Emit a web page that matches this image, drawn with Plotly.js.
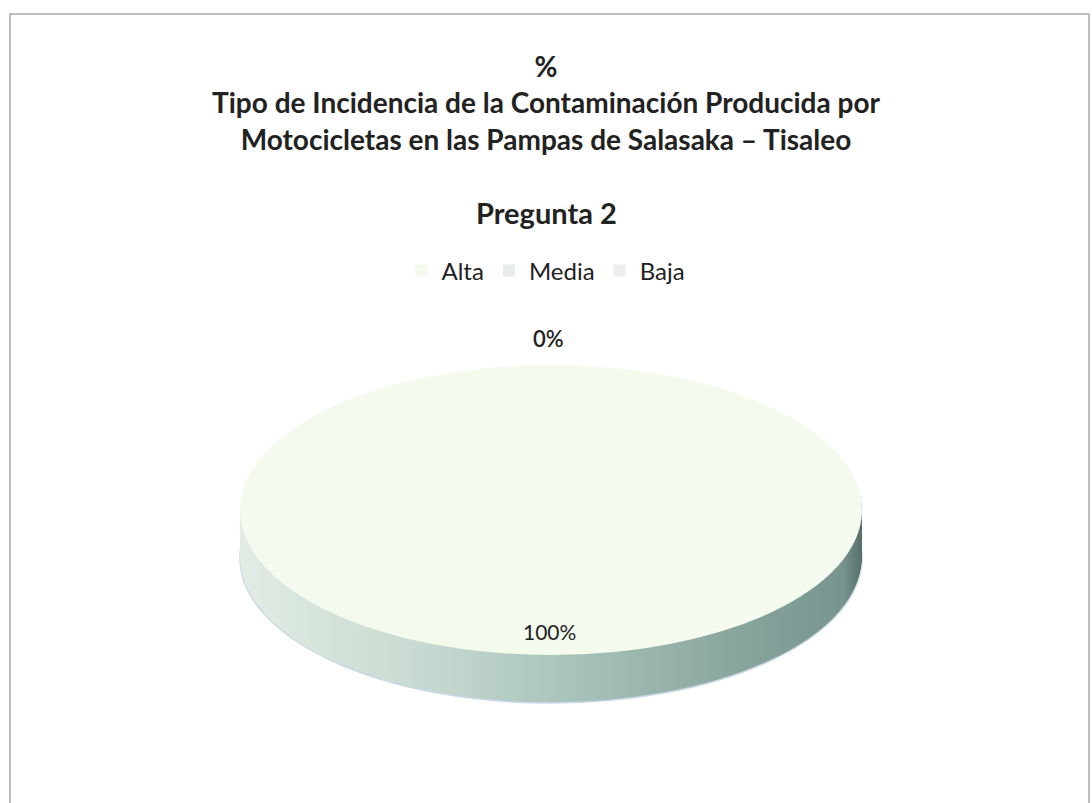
<!DOCTYPE html>
<html>
<head>
<meta charset="utf-8">
<script src="https://cdn.plot.ly/plotly-3.0.1.min.js"></script>
<style>
html,body{margin:0;padding:0;background:#fff;}
#chart{width:1092px;height:803px;}
</style>
</head>
<body>
<div id="chart"></div>
<script>
// ---- data ----
const categories = ['Alta', 'Media', 'Baja'];
const values = [100, 0, 0];
const topColors = ['#f4faee', '#e6eeeb', '#eaefed'];
const titleLines = ['%', 'Tipo de Incidencia de la Contaminación Producida por', 'Motocicletas en las Pampas de Salasaka – Tisaleo'];
const subtitle = 'Pregunta 2';

// ---- derived ----
const total = values.reduce((a, b) => a + b, 0);
const pctText = values.map(v => Math.round(v / total * 100) + '%');

const W = 1092, H = 803;
const FONT = 'Lato, "Open Sans", sans-serif';
const domain = {x: [240 / W, 862 / W], y: [0, 1]};
const SIDE_STEPS = 24, SIDE_DEPTH = 48, TOP_CY = 510, RY = 145;

const traces = [];
for (let i = SIDE_STEPS; i >= 1; i--) {
  traces.push({
    type: 'pie', labels: categories, values: values, sort: false,
    direction: 'clockwise', rotation: 0, domain: domain,
    textinfo: 'none', hoverinfo: 'none', showlegend: false,
    marker: {colors: ['#a9c3bb', '#a9c3bb', '#a9c3bb'],
             line: {width: i === SIDE_STEPS ? [1.5, 0, 0] : 0, color: '#cad8e6'}}
  });
}
traces.push({
  type: 'pie', labels: categories, values: values, sort: false,
  direction: 'clockwise', rotation: 0, domain: domain,
  textinfo: 'none', hoverinfo: 'none', showlegend: true,
  marker: {colors: topColors, line: {width: 0}}
});

const layout = {
  width: W, height: H,
  margin: {l: 0, r: 0, t: 0, b: 0},
  paper_bgcolor: '#ffffff',
  font: {family: FONT, color: '#222222'},
  title: {
    text: titleLines.join('<br>'),
    x: 0.5, xanchor: 'center', y: 1 - 77 / H, yanchor: 'top',
    font: {family: FONT, size: 28, weight: 700, color: '#222222'}
  },
  showlegend: true,
  legend: {
    orientation: 'h', x: 0.5, xanchor: 'center', y: 1 - 271 / H, yanchor: 'middle',
    font: {family: FONT, size: 24, color: '#222222'}, traceorder: 'normal'
  },
  annotations: [
    {text: subtitle, xref: 'paper', yref: 'paper', x: 0.5, y: 1 - 213 / H,
     xanchor: 'center', yanchor: 'middle', showarrow: false,
     font: {family: FONT, size: 29, weight: 700, color: '#222222'}},
    {text: pctText[1], xref: 'paper', yref: 'paper', x: 548 / W, y: 1 - 338 / H,
     xanchor: 'center', yanchor: 'middle', showarrow: false,
     font: {family: FONT, size: 22, weight: 600, color: '#222222'}},
    {text: pctText[0], xref: 'paper', yref: 'paper', x: 549 / W, y: 1 - 631 / H,
     xanchor: 'center', yanchor: 'middle', showarrow: false,
     font: {family: FONT, size: 21, color: '#222222'}}
  ],
  shapes: [
    {type: 'rect', xref: 'paper', yref: 'paper', x0: 10 / W, x1: 1089 / W,
     y0: -0.05, y1: 1 - 14 / H, line: {color: '#a8a8a8', width: 1.5}}
  ]
};

Plotly.newPlot('chart', traces, layout, {staticPlot: true, displayModeBar: false}).then(gd => {
  const ns = 'http://www.w3.org/2000/svg';
  const svg = gd.querySelector('svg.main-svg');
  let defs = svg.querySelector('defs');
  if (!defs) { defs = document.createElementNS(ns, 'defs'); svg.insertBefore(defs, svg.firstChild); }
  const grad = document.createElementNS(ns, 'linearGradient');
  grad.setAttribute('id', 'sideGrad');
  grad.setAttribute('x1', '0'); grad.setAttribute('x2', '1');
  grad.setAttribute('y1', '0'); grad.setAttribute('y2', '0');
  [[0, '#e2ece4'], [0.3, '#c6d9d0'], [0.55, '#a6c1b9'], [0.8, '#88a59e'], [0.97, '#78948e'], [1, '#55706a']].forEach(s => {
    const st = document.createElementNS(ns, 'stop');
    st.setAttribute('offset', s[0]); st.setAttribute('stop-color', s[1]);
    grad.appendChild(st);
  });
  defs.appendChild(grad);

  const groups = gd.querySelectorAll('.pielayer .trace');
  groups.forEach((g, idx) => {
    const cd0 = gd.calcdata[idx][0];
    const cx = cd0.cx, cy = cd0.cy, r = cd0.r;
    const k = RY / r;
    const off = idx < SIDE_STEPS ? (SIDE_STEPS - idx) * SIDE_DEPTH / SIDE_STEPS : 0;
    g.setAttribute('transform',
      'translate(' + cx + ',' + (TOP_CY + off) + ') scale(1,' + k + ') translate(' + (-cx) + ',' + (-cy) + ')');
    if (idx < SIDE_STEPS) {
      g.querySelectorAll('path.surface').forEach(p => {
        p.style.fill = 'url(#sideGrad)';
        p.style.vectorEffect = 'non-scaling-stroke';
      });
    }
  });
});
</script>
</body>
</html>
